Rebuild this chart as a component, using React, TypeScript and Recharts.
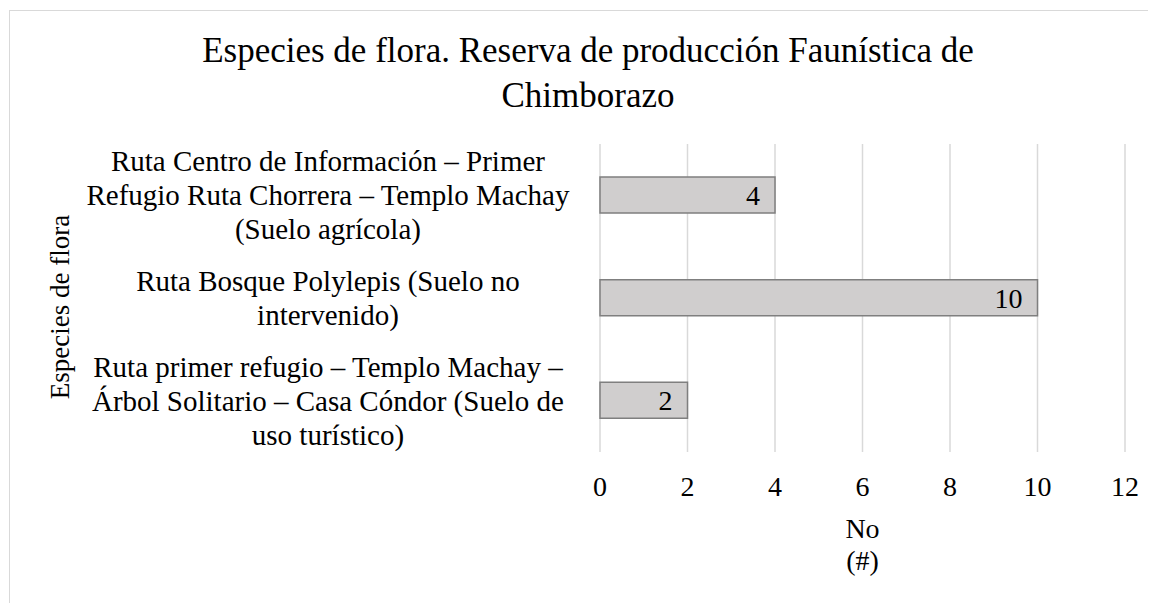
import React from "react"
import { BarChart, Bar, XAxis, YAxis, CartesianGrid, LabelList } from "recharts"

const categories = [
  "Ruta Centro de Información – Primer Refugio Ruta Chorrera – Templo Machay (Suelo agrícola)",
  "Ruta Bosque Polylepis (Suelo no intervenido)",
  "Ruta primer refugio – Templo Machay – Árbol Solitario – Casa Cóndor (Suelo de uso turístico)",
]
const counts = [4, 10, 2]
const xTicks = [0, 2, 4, 6, 8, 10, 12]
const titleLines = ["Especies de flora. Reserva de producción Faunística de", "Chimborazo"]
const xTitleLines = ["No", "(#)"]
const yTitle = "Especies de flora"

const data = categories.map((name, i) => ({ name, value: counts[i] }))

const SERIF = "'Liberation Serif', 'Times New Roman', serif"

function CategoryTick({ x, y, payload }: any) {
  const w = 560
  const h = 120
  return (
    <foreignObject x={x - 27 - w} y={y - h / 2} width={w} height={h}>
      <div
        style={{
          width: w,
          height: h,
          display: "flex",
          justifyContent: "flex-end",
          alignItems: "center",
        }}
      >
        <div
          style={{
            maxWidth: "16.9em",
            textAlign: "center",
            fontFamily: SERIF,
            fontSize: 29,
            lineHeight: "34px",
            color: "#000",
          }}
        >
          {payload.value}
        </div>
      </div>
    </foreignObject>
  )
}

function XTitle({ viewBox }: any) {
  const cx = viewBox.x + viewBox.width / 2
  return (
    <text textAnchor="middle" fontFamily={SERIF} fontSize={28} fill="#000">
      <tspan x={cx} y={527}>{xTitleLines[0]}</tspan>
      <tspan x={cx} y={559}>{xTitleLines[1]}</tspan>
    </text>
  )
}

export default function App() {
  return (
    <div
      style={{
        marginTop: 2,
        marginLeft: 1,
        borderTop: "1px solid #d9d9d9",
        borderLeft: "1px solid #d9d9d9",
        width: 1146,
        height: 592,
      }}
    >
      <BarChart
        width={1146}
        height={592}
        data={data}
        layout="vertical"
        barCategoryGap="32%"
        margin={{ top: 133, right: 31, bottom: 0, left: 0 }}
      >
        <text textAnchor="middle" fontFamily={SERIF} fontSize={35} fill="#000">
          <tspan x={578} y={51}>{titleLines[0]}</tspan>
          <tspan x={578} y={96}>{titleLines[1]}</tspan>
        </text>
        <text
          x={50}
          y={296}
          transform="rotate(-90 50 296)"
          textAnchor="middle"
          dominantBaseline="central"
          fontFamily={SERIF}
          fontSize={27}
          fill="#000"
        >
          {yTitle}
        </text>
        <CartesianGrid horizontal={false} stroke="#d9d9d9" strokeWidth={1.5} />
        <XAxis
          type="number"
          domain={[0, 12]}
          ticks={xTicks}
          interval={0}
          axisLine={false}
          tickLine={false}
          tickSize={0}
          tickMargin={24}
          height={151}
          tick={{ fill: "#000", fontSize: 28, fontFamily: SERIF }}
          label={<XTitle />}
        />
        <YAxis
          type="category"
          dataKey="name"
          width={590}
          axisLine={false}
          tickLine={false}
          tickSize={0}
          tickMargin={0}
          interval={0}
          tick={<CategoryTick />}
        />
        <Bar dataKey="value" barSize={36} fill="#d0cece" stroke="#7f7f7f" strokeWidth={1.5} isAnimationActive={false}>
          <LabelList dataKey="value" position="insideRight" offset={15} fill="#000" fontSize={28} fontFamily={SERIF} />
        </Bar>
      </BarChart>
    </div>
  )
}
